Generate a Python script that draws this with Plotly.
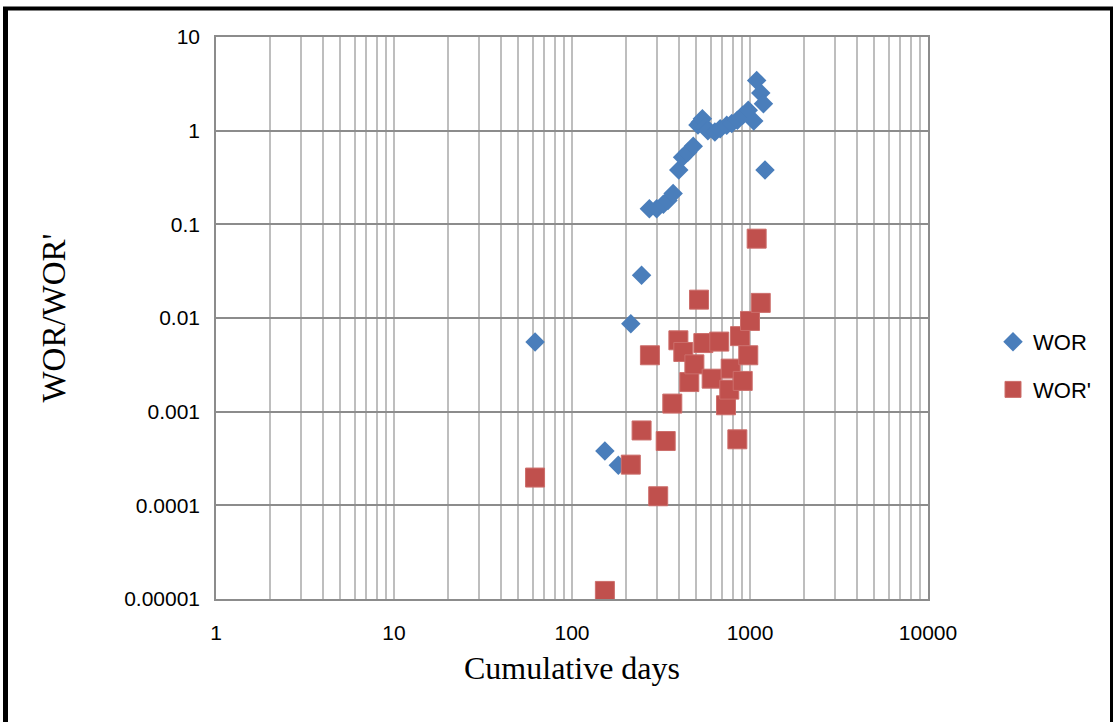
import plotly.graph_objects as go

# ---- data ----
wor_days = [62, 153, 182, 214, 246, 272, 299, 326, 346, 370, 398, 418, 447, 480,
            510, 525, 540, 560, 580, 635, 680, 740, 790, 849, 910, 978, 1050,
            1090, 1149, 1190, 1214]
wor_vals = [0.00555, 0.00038, 0.000268, 0.0087, 0.0286, 0.147, 0.147, 0.164, 0.18,
            0.213, 0.38, 0.52, 0.59, 0.68, 1.15, 1.23, 1.34, 1.1, 1.0, 0.97, 1.05,
            1.14, 1.19, 1.29, 1.46, 1.65, 1.27, 3.44, 2.52, 1.94, 0.38]

worp_days = [62, 153, 214, 246, 274, 305, 336, 366, 396, 422, 456, 487, 517, 547,
             609, 672, 733, 765, 779, 849, 879, 910, 978, 1000, 1090, 1149]
worp_vals = [0.000198, 1.22e-5, 0.000272, 0.00063, 0.004, 0.000125, 0.000486,
             0.00122, 0.00578, 0.00434, 0.00207, 0.0032, 0.0157, 0.0054, 0.00225,
             0.0056, 0.00117, 0.00172, 0.00288, 0.000507, 0.0064, 0.00213, 0.004,
             0.0093, 0.0703, 0.0145]

x_ticks = [1, 10, 100, 1000, 10000]
x_ticklabels = ["1", "10", "100", "1000", "10000"]
y_ticks = [0.00001, 0.0001, 0.001, 0.01, 0.1, 1, 10]
y_ticklabels = ["0.00001", "0.0001", "0.001", "0.01", "0.1", "1", "10"]

# ---- layout constants (pixels) ----
W, H = 1114, 722
L, R, T, B = 216, 928, 37, 599
pw, ph = R - L, B - T

def px_x(p):
    return (p - L) / pw

def px_y(p):
    return (B - p) / ph

minor_x = [m * d for d in (1, 10, 100, 1000) for m in range(2, 10)]

fig = go.Figure()
fig.add_trace(go.Scatter(
    x=wor_days, y=wor_vals, mode="markers", name="WOR", legendgroup="a",
    marker=dict(symbol="diamond", size=15, color="#4A7EBB", line=dict(width=0)),
))
fig.add_trace(go.Scatter(
    x=worp_days, y=worp_vals, mode="markers", name="WOR'", legendgroup="b",
    marker=dict(symbol="square", size=19, color="#C0504D",
                line=dict(width=1, color="#CC6E6B")),
))

tick_font = dict(family="Liberation Sans, Arial, sans-serif", size=21, color="#000000")
title_font_x = dict(family="Liberation Serif, Times New Roman, serif", size=32, color="#000000")
title_font_y = dict(family="Liberation Serif, Times New Roman, serif", size=33, color="#000000")

fig.update_layout(
    width=W, height=H,
    margin=dict(l=L, r=W - R, t=T, b=H - B, pad=0),
    paper_bgcolor="white", plot_bgcolor="white",
    showlegend=True,
    legend=dict(x=px_x(993), y=px_y(321), xanchor="left", yanchor="top",
                font=dict(family="Liberation Sans, Arial, sans-serif", size=22, color="#000"),
                tracegroupgap=16, bgcolor="rgba(0,0,0,0)", itemwidth=30),
    xaxis=dict(
        type="log", range=[0, 4],
        tickvals=x_ticks, ticktext=x_ticklabels, tickfont=tick_font,
        ticks="", ticklabelstandoff=14,
        showgrid=True, gridcolor="#BEBEBE", gridwidth=1.5,
        minor=dict(tickvals=minor_x, showgrid=True, gridcolor="#BEBEBE", gridwidth=1.5, ticks=""),
        showline=True, linecolor="#8C8C8C", linewidth=1.5, mirror=True,
        zeroline=False,
        title=dict(text="Cumulative days", font=title_font_x, standoff=14),
    ),
    yaxis=dict(
        type="log", range=[-5, 1],
        tickvals=y_ticks, ticktext=y_ticklabels, tickfont=tick_font,
        ticks="", ticklabelstandoff=10,
        showgrid=True, gridcolor="#8C8C8C", gridwidth=1.5,
        showline=True, linecolor="#8C8C8C", linewidth=1.5, mirror=True,
        zeroline=False,
        title=dict(text="WOR/WOR'", font=title_font_y, standoff=49),
    ),
)

# outer black frame of the chart image
frame = [
    (px_x(5.5), px_y(8.5), px_x(5.5), px_y(740), 5),
    (px_x(3), px_y(8.5), px_x(1113), px_y(8.5), 4),
    (px_x(1111.5), px_y(7), px_x(1111.5), px_y(740), 3),
]
for x0, y0, x1, y1, w in frame:
    fig.add_shape(type="line", xref="paper", yref="paper", x0=x0, y0=y0, x1=x1, y1=y1,
                  line=dict(color="black", width=w), layer="above")

fig.write_html("out.html", config={"displayModeBar": False},
               post_script="document.body.style.margin='0';")
